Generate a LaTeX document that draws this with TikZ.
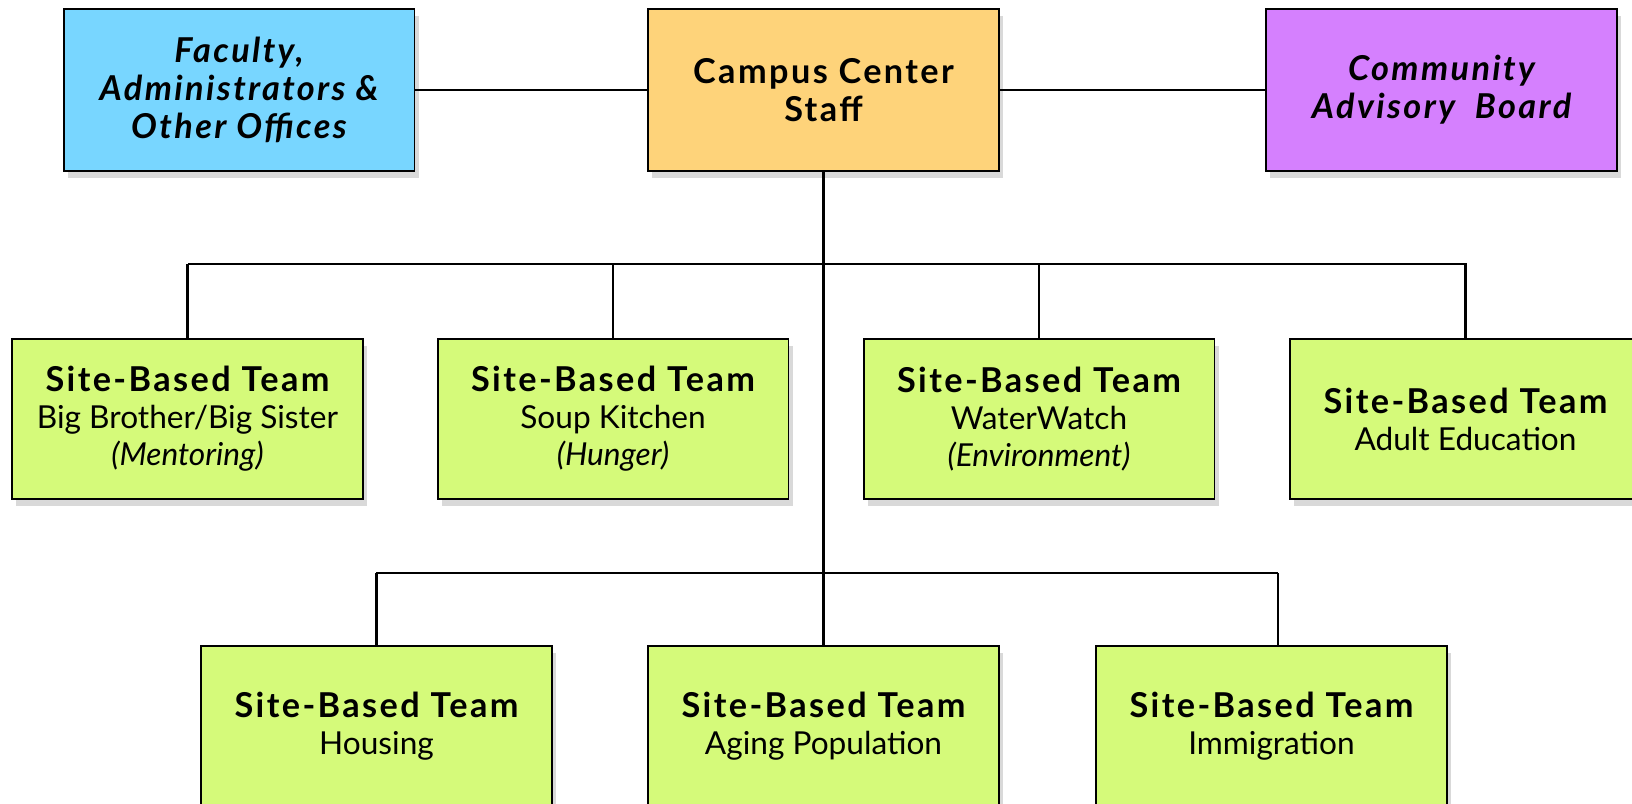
\documentclass[tikz,border=0pt]{standalone}
\usepackage{fontspec}
\setmainfont{Lato}
\newfontfamily\widebold[LetterSpace=7]{Lato}
\usetikzlibrary{shadows}

\definecolor{facultyblue}{RGB}{120,214,255}
\definecolor{staffgold}{RGB}{254,211,122}
\definecolor{boardviolet}{RGB}{213,128,254}
\definecolor{teamgreen}{RGB}{213,250,122}

\newcommand{\teamhead}{{\widebold\fontsize{19.5}{21}\selectfont\bfseries Site-Based Team}}

\begin{document}
\begin{tikzpicture}[x=0.02cm, y=-0.02cm,
    orgbox/.style={draw=black, line width=1.1pt, inner sep=0pt, align=center,
      minimum width=7.02cm, minimum height=3.24cm,
      drop shadow={shadow xshift=2.5pt, shadow yshift=-4pt, opacity=0.3}},
    headbox/.style={orgbox, font=\widebold\fontsize{19.5}{21.5}\selectfont\bfseries\itshape},
    teambox/.style={orgbox, fill=teamgreen, minimum height=3.2cm,
      font=\fontsize{18}{21}\selectfont},
    link/.style={line width=1.2pt}]
  \clip (0,0) rectangle (1632,804);

  % top row
  \node[headbox, fill=facultyblue] (faculty) at (239,90) {Faculty,\\Administrators \&\\Other Offices};
  \node[headbox, fill=staffgold, font=\widebold\fontsize{19.5}{21.5}\selectfont\bfseries] (staff) at (823.5,90) {Campus Center\\Staff};
  \node[headbox, fill=boardviolet] (board) at (1441.5,90) {Community\\Advisory~~Board};

  % site-based teams, first row
  \node[teambox] (mentor) at (187.5,419) {\teamhead\\Big Brother/Big Sister\\\textit{(Mentoring)}};
  \node[teambox] (soup) at (613,419) {\teamhead\\Soup Kitchen\\\textit{(Hunger)}};
  \node[teambox] (water) at (1039,419) {\teamhead\\WaterWatch\\\textit{(Environment)}};
  \node[teambox] (adult) at (1465.5,419) {\teamhead\\Adult Education};

  % site-based teams, second row
  \node[teambox] (housing) at (376.5,726) {\teamhead\\Housing};
  \node[teambox] (aging) at (823.5,726) {\teamhead\\Aging Population};
  \node[teambox] (immig) at (1271.5,726) {\teamhead\\Immigration};

  % connectors
  \coordinate (busA) at (188,264);
  \coordinate (busB) at (1467,264);
  \coordinate (busC) at (376,573);
  \coordinate (busD) at (1278,573);

  \draw[link] (faculty.east) -- (staff.west);
  \draw[link] (staff.east) -- (board.west);
  \draw[link] (staff.south) -- (aging.north);
  \draw[link] (busA) -- (busB);
  \draw[link] (busC) -- (busD);
  \foreach \t in {mentor,soup,water,adult}
    \draw[link] (\t.north) -- (\t.north |- busA);
  \draw[link] (housing.north) -- (housing.north |- busC);
  \draw[link] (busD) -- (busD |- immig.north);
\end{tikzpicture}
\end{document}
